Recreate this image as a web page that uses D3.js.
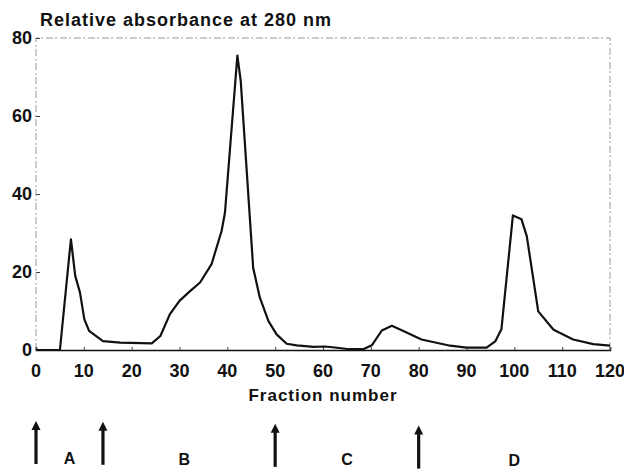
<!DOCTYPE html>
<html>
<head>
<meta charset="utf-8">
<script src="https://cdn.jsdelivr.net/npm/d3@7"></script>
<style>
  body { margin: 0; background: #fff; }
  svg { display: block; }
  text { font-family: "Liberation Sans", Arial, sans-serif; font-weight: bold; fill: #111; }
</style>
</head>
<body>
<div id="chart"></div>
<script>
// fraction number and relative absorbance
var fractions = [0, 5, 7.3, 8.2, 9.2, 10.1, 11.1, 14, 17.6, 24.2, 26, 28, 30, 32.2, 34.3, 36.7, 38.8, 39.5,
    42.1, 42.8, 45.4, 46.8, 48.6, 50.3, 52.4, 54.5, 58, 60.4, 62, 65.6, 68.4, 70.2, 72.3, 74.4, 76.8,
    80.6, 86.6, 90, 94.2, 96, 97.3, 99.7, 101.5, 102.6, 105, 108.2, 112.3, 116.5, 120];
var absorbance = [0, 0, 28.4, 19, 14.7, 7.9, 4.9, 2.3, 1.9, 1.7, 3.6, 9.2, 12.6, 15.1, 17.3, 22, 30.5, 35.2,
    75.5, 69, 21.1, 13.4, 7.4, 4, 1.6, 1.2, 0.8, 0.9, 0.7, 0.2, 0.2, 1.2, 5, 6.2, 4.9,
    2.7, 1.1, 0.6, 0.6, 2.2, 5.3, 34.5, 33.5, 29.2, 9.9, 5.2, 2.7, 1.5, 1.1];

var xTicks = [0, 10, 20, 30, 40, 50, 60, 70, 80, 90, 100, 110, 120];
var yTicks = [0, 20, 40, 60, 80];

// pooled fractions: arrows mark the cuts, letters name the pools
var cutFractions = [0, 14, 50, 80];
var poolNames = ["A", "B", "C", "D"];
var poolCentres = [7, 31, 65, 100];

var w = 624, h = 470;

var svg = d3.select("#chart")
    .append("svg")
    .attr("width", w)
    .attr("height", h);

// scale functions
var xScale = d3.scaleLinear()
    .domain([0, 120])
    .range([36, 610]);
var yScale = d3.scaleLinear()
    .domain([0, 80])
    .range([350, 38]);

// faint frame round the plot
svg.append("path")
    .attr("d", "M" + xScale(0) + "," + yScale(0) + " V" + yScale(80) + " H" + xScale(120) + " V" + yScale(0))
    .attr("fill", "none")
    .attr("stroke", "#999")
    .attr("stroke-width", 1)
    .attr("stroke-dasharray", "7,2,2,3");

// x axis, ticks pointing inwards
var xAxis = d3.axisTop(xScale).tickValues(xTicks).tickSize(3).tickFormat("");
svg.append("g")
    .attr("transform", "translate(0," + yScale(0) + ")")
    .call(xAxis)
    .call(function(g) {
        g.select(".domain").attr("stroke", "#111").attr("stroke-width", 1.6);
        g.selectAll(".tick line").attr("stroke", "#444");
    });

// y axis, ticks pointing inwards
var yAxis = d3.axisRight(yScale).tickValues(yTicks).tickSize(4).tickFormat("");
svg.append("g")
    .attr("transform", "translate(" + xScale(0) + ",0)")
    .call(yAxis)
    .call(function(g) {
        g.select(".domain").remove();
        g.selectAll(".tick line").attr("stroke", "#444");
    });

// tick labels
svg.selectAll(".xlab")
    .data(xTicks)
    .enter()
    .append("text")
    .attr("class", "xlab")
    .attr("x", function(d) { return xScale(d); })
    .attr("y", 377)
    .attr("text-anchor", "middle")
    .style("font-size", "18px")
    .text(function(d) { return d; });

svg.selectAll(".ylab")
    .data(yTicks)
    .enter()
    .append("text")
    .attr("class", "ylab")
    .attr("x", 32)
    .attr("y", function(d) { return yScale(d) + 6; })
    .attr("text-anchor", "end")
    .style("font-size", "18px")
    .text(function(d) { return d; });

// titles
svg.append("text")
    .attr("x", 40)
    .attr("y", 26)
    .style("font-size", "18px")
    .style("letter-spacing", "1px")
    .text("Relative absorbance at 280 nm");

svg.append("text")
    .attr("x", 323)
    .attr("y", 401)
    .attr("text-anchor", "middle")
    .style("font-size", "17px")
    .style("letter-spacing", "1px")
    .text("Fraction number");

// elution profile
var line = d3.line()
    .x(function(d, i) { return xScale(fractions[i]); })
    .y(function(d) { return yScale(d); });

svg.append("path")
    .datum(absorbance)
    .attr("d", line)
    .attr("fill", "none")
    .attr("stroke", "#111")
    .attr("stroke-width", 2.2)
    .attr("stroke-linejoin", "round");

// arrows under the axis (page is scanned slightly skewed)
function tilt(x) { return (x - 36) * 0.012; }

var arrows = svg.selectAll(".arrow")
    .data(cutFractions)
    .enter()
    .append("g")
    .attr("class", "arrow")
    .attr("transform", function(d) {
        var x = xScale(d);
        return "translate(" + x + "," + (422 + tilt(x)) + ")";
    });
arrows.append("line")
    .attr("x1", 0).attr("x2", 0)
    .attr("y1", 6).attr("y2", 42)
    .attr("stroke", "#111")
    .attr("stroke-width", 3.2);
arrows.append("path")
    .attr("d", "M0,-1 L4.5,8 L-4.5,8 Z")
    .attr("fill", "#111");

svg.selectAll(".pool")
    .data(poolNames)
    .enter()
    .append("text")
    .attr("class", "pool")
    .attr("x", function(d, i) { return xScale(poolCentres[i]); })
    .attr("y", function(d, i) { return 464 + tilt(xScale(poolCentres[i])) * 0.4; })
    .attr("text-anchor", "middle")
    .style("font-size", "16px")
    .text(function(d) { return d; });
</script>
</body>
</html>
